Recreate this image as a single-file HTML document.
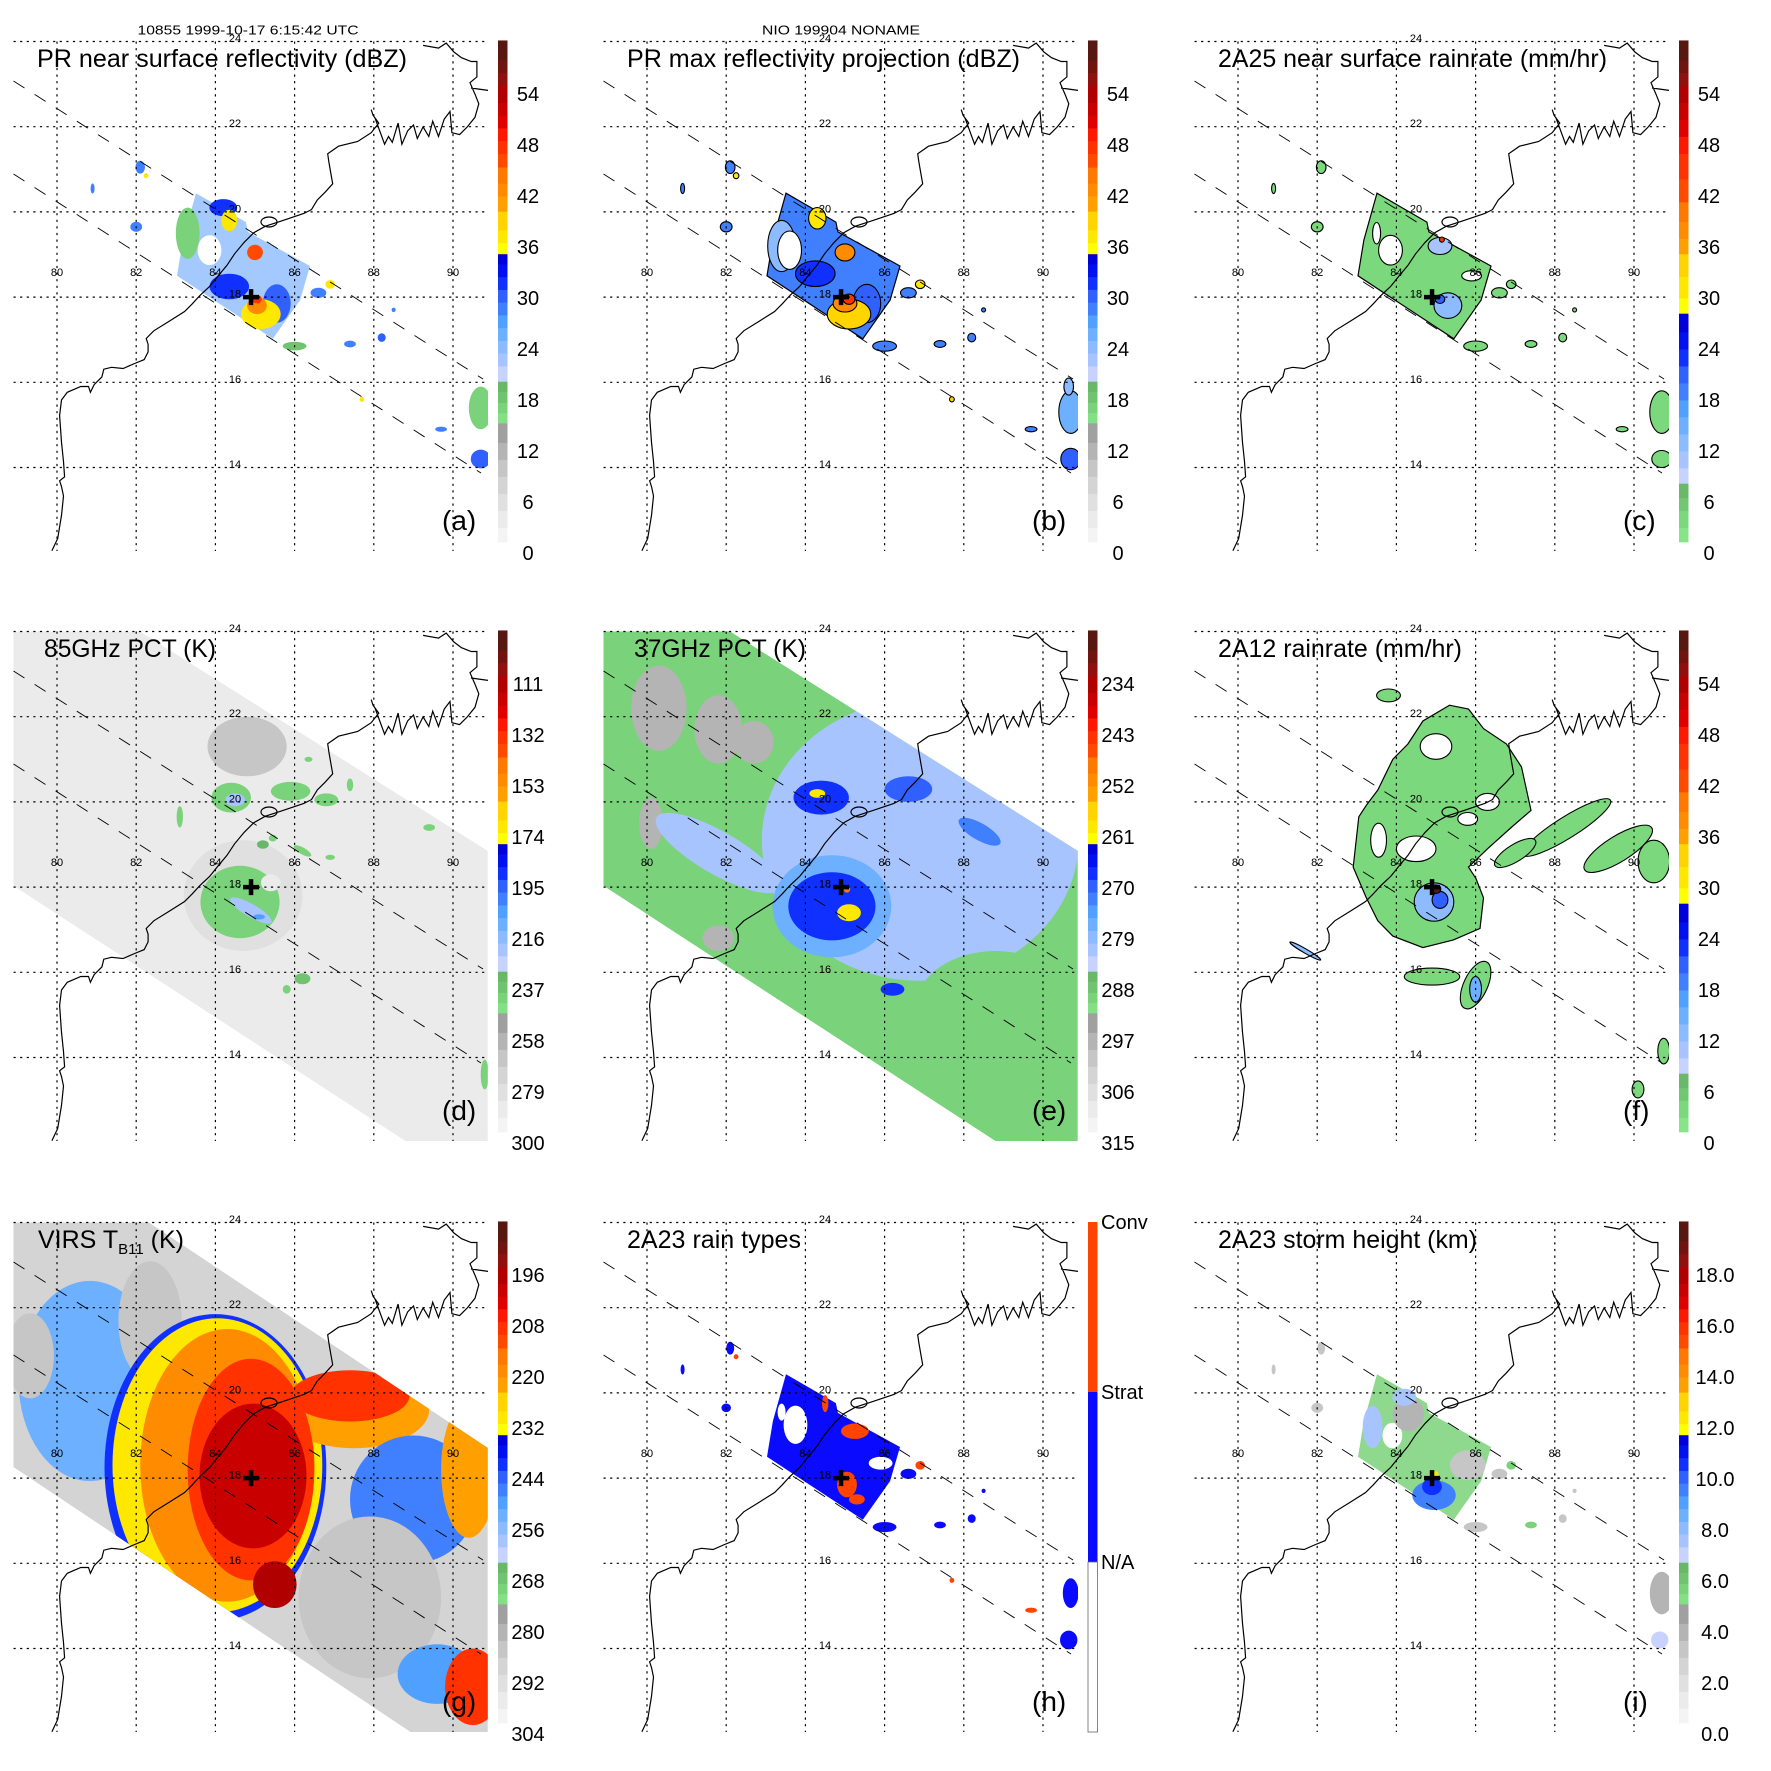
<!DOCTYPE html>
<html><head><meta charset="utf-8"><title>TRMM overpass 10855 NIO 199904</title>
<style>html,body{margin:0;padding:0;background:#fff;width:1771px;height:1771px;overflow:hidden}
svg{position:absolute;left:0;top:0;font-family:"Liberation Sans",Arial,sans-serif}</style></head>
<body>
<svg id="fig" width="1771" height="1771" xmlns="http://www.w3.org/2000/svg">
<rect x="0" y="0" width="1771" height="1771" fill="#fff"/>
</svg>
<script>
const NS='http://www.w3.org/2000/svg';
const svg=document.getElementById('fig');

// axis ticks
const lonTicks=[80,82,84,86,88,90];
const latTicks=[24,22,20,18,16,14];
// storm centre
const stormLon=84.9, stormLat=18.0;
// swath outlines (lon, lat)
const prSwath=[[83.51,20.44],[84.77,19.76],[84.82,19.53],[86.39,18.73],[86.14,17.93],[85.45,17.02],[83.03,18.50],[83.18,19.34]];
const tmiSwath=[[78.9,24.0],[82.1,24.0],[90.88,18.85],[90.88,12.0],[88.86,12.0],[78.9,18.03]];
const virsSwath=[[78.9,24.0],[82.32,24.0],[90.88,18.71],[90.88,12.0],[88.99,12.0],[78.9,18.26]];

// colourbar label arrays
const labelsA=['54','48','42','36','30','24','18','12','6','0'];
const labelsD=['111','132','153','174','195','216','237','258','279','300'];
const labelsE=['234','243','252','261','270','279','288','297','306','315'];
const labelsG=['196','208','220','232','244','256','268','280','292','304'];
const labelsI=['18.0','16.0','14.0','12.0','10.0','8.0','6.0','4.0','2.0','0.0'];

// blob data: [lon, lat, rxDeg, ryDeg, value, rotation]
const blobsA=[[83.3,19.5,.3,.6,17],[83.85,19.1,.3,.35,null],[84.35,18.25,.5,.3,31],[84.2,20.1,.35,.2,31],[84.35,19.8,.2,.25,37],[85.0,19.05,.2,.18,46],[85.55,17.85,.35,.45,30],[85.15,17.6,.5,.35,37],[85.05,17.8,.25,.2,42],[85.05,17.95,.12,.1,48],
[82.1,21.05,.12,.15,28],[82.25,20.85,.06,.06,37],[80.9,20.55,.05,.12,28],[82.0,19.65,.15,.12,28],[86.9,18.3,.12,.1,37],[86.6,18.1,.2,.12,28],[88.2,17.05,.1,.1,30],[87.4,16.9,.15,.08,28],[86.0,16.85,.3,.1,18],[90.7,15.4,.3,.5,17],[90.7,14.2,.25,.22,30],[89.7,14.9,.15,.06,28],[87.7,15.6,.06,.06,37],[88.5,17.7,.05,.05,28]];
const blobsB=[[83.4,19.2,.35,.6,24],[83.6,19.1,.3,.45,null],[84.25,18.55,.5,.3,32],[84.3,19.85,.22,.25,37],[85.0,19.05,.25,.2,43],[85.55,17.85,.35,.45,30],[85.1,17.6,.55,.35,38],[85.0,17.85,.3,.2,42],[85.1,17.95,.15,.12,47],
[82.1,21.05,.12,.15,28],[82.25,20.85,.07,.07,37],[80.9,20.55,.05,.12,28],[82.0,19.65,.15,.12,28],[86.9,18.3,.12,.1,37],[86.6,18.1,.2,.12,28],[88.2,17.05,.1,.1,28],[87.4,16.9,.15,.08,28],[86.0,16.85,.3,.12,28],[90.7,15.3,.3,.5,26],[90.7,14.2,.25,.25,30],[90.65,15.9,.12,.2,24],[89.7,14.9,.15,.06,28],[87.7,15.6,.06,.06,38],[88.5,17.7,.05,.05,28]];
const blobsC=[[83.85,19.1,.3,.35,null],[83.5,19.5,.1,.25,null],[85.1,19.2,.3,.2,10],[85.3,17.8,.35,.3,12],[85.1,17.95,.12,.1,20],[85.15,19.35,.06,.06,45],[85.9,18.5,.25,.12,null],
[82.1,21.05,.12,.15,3],[80.9,20.55,.05,.12,3],[82.0,19.65,.15,.12,3],[86.9,18.3,.12,.1,3],[86.6,18.1,.2,.12,3],[88.2,17.05,.1,.1,3],[87.4,16.9,.15,.08,3],[86.0,16.85,.3,.12,3],[90.7,15.3,.3,.5,3],[90.7,14.2,.25,.2,3],[89.7,14.9,.15,.06,3],[88.5,17.7,.05,.05,3]];
const blobsD=[[84.8,21.3,1.0,.7,268],[84.7,17.8,1.5,1.3,278],[84.62,17.65,1.0,.85,240],[84.9,17.45,.6,.15,220,30],[85.1,17.3,.15,.06,205],[85.4,18.1,.25,.2,287],[84.4,20.1,.5,.35,240],[84.5,20.05,.25,.15,222],[85.9,20.25,.5,.22,240],[86.8,20.05,.3,.15,240],[85.2,19.0,.15,.1,232],[85.45,19.15,.1,.08,240],[86.2,18.85,.25,.08,240,30],[86.9,18.7,.12,.06,240],[86.2,15.85,.2,.13,238],[85.8,15.6,.1,.1,240],[90.8,13.6,.1,.35,240],[83.1,19.65,.08,.25,240],[87.4,20.4,.08,.15,240],[89.4,19.4,.15,.08,240],[86.35,21.0,.1,.06,240]];
const blobsE=[[80.3,22.2,.7,1.0,296],[81.8,21.7,.6,.8,296],[82.7,21.4,.5,.5,296],[80.1,19.5,.3,.6,296],[81.8,16.8,.4,.3,296],[81.8,18.8,1.8,.5,282,30],[86.9,19.1,4.0,3.3,281],[88.8,15.2,2.0,1.3,289],[84.4,20.1,.7,.4,268],[86.6,20.3,.6,.3,270],[88.4,19.3,.6,.2,273,30],[84.67,17.55,1.5,1.2,276],[84.67,17.55,1.1,.8,267],[85.1,17.4,.3,.2,259],[84.3,20.2,.2,.1,259],[85.05,17.95,.08,.08,248],[86.2,15.6,.3,.15,268]];
const blobsF=[[88.3,19.4,1.3,.25,3,-32],[89.6,18.9,1.0,.3,3,-32],[90.5,18.6,.4,.5,3],[87.0,18.8,.6,.2,3,-32],[84.9,15.9,.7,.2,3],[86.0,15.7,.3,.6,3,25],[83.8,22.5,.3,.15,3],[90.1,13.25,.15,.2,3],[90.75,14.15,.15,.3,3],[89.3,11.9,.15,.1,3],
[84.5,18.9,.5,.3,null],[83.55,19.1,.2,.4,null],[85.0,21.3,.4,.3,null],[86.3,20.0,.3,.2,null],[85.8,19.6,.25,.15,null],
[84.95,17.65,.5,.45,12],[85.1,17.7,.2,.2,20],[86.0,15.6,.15,.3,14],[85.0,17.95,.12,.1,70],[81.7,16.5,.45,.05,12,30]];
const blobsG=[[80.83,20.28,1.8,2.35,252],[82.35,21.69,.8,1.4,285],[79.32,20.87,.6,1.0,285],[79.8,23.7,1.2,.5,288],
[84.0,18.25,2.8,3.6,242],[84.05,18.3,2.65,3.45,230],[84.3,18.3,2.2,3.2,220],[87.5,19.6,1.9,.9,222],[84.9,18.2,1.6,2.6,210],[87.4,19.93,1.5,.6,208],[84.95,18.05,1.35,1.7,200],[85.5,15.5,.55,.55,198],
[89.0,17.5,1.6,1.5,248],[87.9,15.2,1.8,1.9,286],[90.4,18.2,.7,1.6,222],[89.6,13.4,1.0,.7,250],[90.5,13.1,.7,.9,210]];
const blobsH=[[83.75,19.25,.3,.45,null],[83.4,19.55,.1,.2,null],[85.25,19.1,.35,.18,2],[84.5,19.75,.08,.2,2],[85.05,17.85,.25,.3,2],[85.3,17.5,.2,.12,2],[85.9,18.35,.3,.15,null],
[82.1,21.05,.1,.15,1],[82.25,20.85,.06,.06,2],[80.9,20.55,.05,.12,1],[82.0,19.65,.12,.1,1],[86.9,18.3,.12,.1,2],[86.6,18.1,.2,.12,1],[88.2,17.05,.1,.1,1],[87.4,16.9,.15,.08,1],[86.0,16.85,.3,.12,1],[90.7,15.3,.2,.35,1],[90.65,14.2,.22,.22,1],[89.7,14.9,.15,.06,2],[87.7,15.6,.06,.06,2],[88.5,17.7,.05,.05,1]];
const blobsI=[[83.9,19.0,.25,.3,null],[84.3,19.5,.4,.4,4.0],[85.8,18.3,.45,.35,3.5],[84.2,19.9,.3,.2,7.5],[83.4,19.2,.25,.5,7.5],[84.95,17.6,.55,.35,9.5],[84.9,17.8,.25,.2,10.5],[85.0,18.1,.06,.06,12.5],
[82.1,21.05,.1,.15,3],[80.9,20.55,.05,.12,3],[82.0,19.65,.15,.12,3],[86.9,18.3,.12,.1,5.5],[86.6,18.1,.2,.12,3],[88.2,17.05,.1,.1,3],[87.4,16.9,.15,.08,5.5],[86.0,16.85,.3,.12,3],[90.7,15.3,.3,.5,4],[90.65,14.2,.22,.2,7],[88.5,17.7,.05,.05,3]];

// f main rain polygon
const polyF=[[83.05,19.65],[82.91,18.47],[83.24,17.75],[83.53,17.21],[83.91,16.85],[84.67,16.58],[85.44,16.76],[86.11,17.03],[86.20,17.75],[86.01,18.20],[85.82,18.47],[86.3,18.9],[86.9,19.4],[87.4,19.8],[87.16,20.82],[86.78,21.36],[86.20,21.72],[85.82,22.18],[85.34,22.27],[84.67,21.90],[84.29,21.36],[83.91,21.00],[83.53,20.28],[83.24,19.92]];

function X(lon){return 57+(lon-80)*39.6;}
function Y(lat){return 41.5+(24-lat)*42.6;}
const ML=13.5,MR=488,MT=41.5,MB=551;

const bandsA=[[3,'#f4f4f4'],[5,'#ebebeb'],[7,'#e0e0e0'],[9,'#d4d4d4'],[11,'#c6c6c6'],[13,'#b4b4b4'],[15.3,'#a0a0a0'],
[16.5,'#84e084'],[17.7,'#7ad27a'],[19,'#70c470'],[20.2,'#68b868'],
[22,'#c8d2ff'],[23.5,'#a8c4ff'],[25,'#8cbcff'],[26.5,'#6cb0ff'],[28,'#50a0ff'],[29.5,'#4080ff'],[31,'#3060ff'],[32.5,'#1030ff'],[34,'#0010f0'],[35.2,'#0000d8'],
[36.5,'#ffff00'],[38,'#ffe800'],[40.2,'#ffd400'],[42,'#ffa000'],[43.5,'#ff8c00'],[45.4,'#ff7800'],
[47,'#ff4a00'],[48.5,'#ff3200'],[50,'#ff1800'],[51.5,'#e00000'],[53,'#c80000'],[55,'#b00000'],[56.5,'#901010'],[58,'#701410'],[61,'#581812']];
const bandsB=[[3,'#88e488'],[5,'#7cd87c'],[6.5,'#72c872'],[8.2,'#6ab86a'],
[10,'#c8d2ff'],[12,'#a8c4ff'],[14,'#8cbcff'],[16,'#6cb0ff'],[18,'#50a0ff'],[20,'#4080ff'],[22,'#3060ff'],[24,'#1030ff'],[26,'#0010f0'],[28.2,'#0000d8'],
[30,'#ffff00'],[32.5,'#ffe800'],[35.2,'#ffd400'],[37,'#ffa000'],[39,'#ff8c00'],[41.3,'#ff7800'],
[44,'#ff4a00'],[47,'#ff3200'],[49,'#ff1800'],[51,'#e00000'],[53,'#c80000'],[55,'#b00000'],[56.5,'#901010'],[58,'#701410'],[61,'#581812']];
function colA(v){for(const b of bandsA){if(v<b[0])return b[1];}return '#581812';}
function colB(v){for(const b of bandsB){if(v<b[0])return b[1];}return '#581812';}

const coastD="M51.9,550.8 L57.7,538.5 61.5,515.4 63.5,496 61.5,486.5 59.6,480.8 64.6,476.9 63.5,461.5 61.5,442.3 59.6,415.4 61.5,400 67.3,392.3 80.8,386.5 88.5,386.5 90.4,392.3 94.2,384.6 101.9,376.9 103.8,369.2 111.5,367.3 123.1,368.5 134.6,363.5 144.2,359.6 148.1,351.9 148.1,344.2 146.2,338.5 153.8,330.8 169.2,321.2 184.6,311.5 192.3,303.8 200,295.4 209.6,286.5 217.3,276.9 226.9,265.4 234.6,253.8 244.2,242.3 253.8,232.7 265.4,226.2 280.8,221.2 303.8,213.5 311.5,209.6 317.3,200 325,192.3 332.7,183.8 330.8,173.1 328.8,161.5 327.7,153.8 338.5,146.2 357.7,141.5 371.2,132.7 378.8,123.1 373.1,115.4 371.2,109.6 M375,118 L384.6,144.2 388.5,136.5 392.3,142.3 398.1,123.1 401.9,144.2 407.7,130.8 413.5,125 417.3,138.5 423.1,126.9 428.8,136.5 432.7,121.2 438.5,136.5 444.2,119.2 450,111.5 451.9,132.7 459.6,134.6 467.3,126.9 475,117.3 478.8,103.8 475,94.2 470,82.7 476.9,76.9 476.9,61.5 471.2,61.5 461.5,57.7 453.8,51.9 446.2,43.1 438.5,48.1 423.1,45.4 M471,88 L488,90.4 M261,222 a8,5 0 1,0 16,0 a8,5 0 1,0 -16,0";

function el(tag,attrs,parent){const e=document.createElementNS(NS,tag);for(const k in attrs)e.setAttribute(k,attrs[k]);(parent||svg).appendChild(e);return e;}
function polyPts(arr){return arr.map(p=>X(p[0]).toFixed(1)+','+Y(p[1]).toFixed(1)).join(' ');}

const panels=[
 {id:'a',col:0,row:0,title:'PR near surface reflectivity (dBZ)',tx:37,tl:370,scheme:'A',labels:labelsA,toV:v=>v,base:prSwath,baseV:24,baseOp:.8,blobs:blobsA,stroke:false},
 {id:'b',col:1,row:0,title:'PR max reflectivity projection (dBZ)',tx:37,tl:393,scheme:'A',labels:labelsA,toV:v=>v,base:prSwath,baseV:28,baseOp:1,blobs:blobsB,stroke:true},
 {id:'c',col:2,row:0,title:'2A25 near surface rainrate (mm/hr)',tx:37,tl:389,scheme:'B',labels:labelsA,toV:v=>v,base:prSwath,baseV:3,baseOp:1,blobs:blobsC,stroke:true},
 {id:'d',col:0,row:1,title:'85GHz PCT (K)',tx:44,tl:172,scheme:'A',labels:labelsD,toV:k=>(300-k)*6/21,base:tmiSwath,baseV:287,baseOp:1,blobs:blobsD,stroke:false,clip:tmiSwath},
 {id:'e',col:1,row:1,title:'37GHz PCT (K)',tx:44,tl:172,scheme:'A',labels:labelsE,toV:k=>(315-k)*6/9,base:tmiSwath,baseV:289,baseOp:1,blobs:blobsE,stroke:false,clip:tmiSwath},
 {id:'f',col:2,row:1,title:'2A12 rainrate (mm/hr)',tx:37,tl:244,scheme:'B',labels:labelsA,toV:v=>v,base:polyF,baseV:3,baseOp:1,blobs:blobsF,stroke:true},
 {id:'g',col:0,row:2,title:null,scheme:'A',labels:labelsG,toV:k=>(304-k)/2,base:virsSwath,baseV:288,baseOp:1,blobs:blobsG,stroke:false,clip:virsSwath},
 {id:'h',col:1,row:2,title:'2A23 rain types',tx:37,tl:174,scheme:'H',labels:null,toV:v=>v,base:prSwath,baseV:1,baseOp:1,blobs:blobsH,stroke:false},
 {id:'i',col:2,row:2,title:'2A23 storm height (km)',tx:37,tl:259,scheme:'A',labels:labelsI,toV:v=>v*3,base:prSwath,baseV:5.5,baseOp:.85,blobs:blobsI,stroke:false}
];
const offs=[0,590,1181];

function colorFor(p,val){
  if(val===null)return '#ffffff';
  if(p.scheme==='H')return val===2?'#ff4400':'#0a0aff';
  const v=p.toV(val);
  if(v<1.3)return '#ffffff';
  return p.scheme==='B'?colB(v):colA(v);
}

panels.forEach(p=>{
  const g=el('g',{transform:`translate(${offs[p.col]},${offs[p.row]})`});
  
  
  const defs=el('defs',{},g);
  const cp=el('clipPath',{id:'clip-'+p.id},defs);
  if(p.clip){el('polygon',{points:polyPts(p.clip)},cp);} else {el('rect',{x:ML,y:MT,width:MR-ML,height:MB-MT},cp);}
  const cpm=el('clipPath',{id:'clipm-'+p.id},defs);
  el('rect',{x:ML,y:MT,width:MR-ML,height:MB-MT},cpm);
  const outer=el('g',{'clip-path':`url(#clipm-${p.id})`},g);
  const dg=el('g',{'clip-path':`url(#clip-${p.id})`},outer);
  
  
  const base=el('polygon',{points:polyPts(p.base),fill:colorFor(p,p.baseV),'fill-opacity':p.baseOp,stroke:p.stroke&&!p.clip?'#000':'none','stroke-width':1.2},dg);
  
  
  p.blobs.forEach(b=>{
    const cx=X(b[0]),cy=Y(b[1]),rx=b[2]*39.6,ry=b[3]*42.6,rot=b[5]||0;
    const e=el('ellipse',{cx:cx.toFixed(1),cy:cy.toFixed(1),rx:rx.toFixed(1),ry:ry.toFixed(1),fill:colorFor(p,b[4]),stroke:p.stroke?'#000':'none','stroke-width':1.1,transform:`rotate(${rot} ${cx.toFixed(1)} ${cy.toFixed(1)})`},dg);
    
    
  });
  // grid
  latTicks.forEach(lat=>{
    const l=el('line',{x1:ML,x2:MR,y1:Y(lat),y2:Y(lat),stroke:'#000','stroke-width':1.2,'stroke-dasharray':'2.2,4.4'},g);
    
    
    const t=el('text',{x:235,y:Y(lat)+0.5,'font-size':11,'text-anchor':'middle',fill:'#000'},g);
    
    
    t.textContent=String(lat);
  });
  lonTicks.forEach(lon=>{
    const l=el('line',{x1:X(lon),x2:X(lon),y1:MT,y2:MB,stroke:'#000','stroke-width':1.2,'stroke-dasharray':'2.2,4.4'},g);
    
    
    const t=el('text',{x:X(lon),y:276,'font-size':11,'text-anchor':'middle',fill:'#000'},g);
    
    
    t.textContent=String(lon);
  });
  // coast
  const c=el('path',{d:coastD,fill:'none',stroke:'#000','stroke-width':1.2},g);
  
  
  // PR swath edges
  const d1=el('line',{x1:13.5,y1:81,x2:483,y2:379,stroke:'#000','stroke-width':0.9,'stroke-dasharray':'13,12'},g);
  
  
  const d2=el('line',{x1:13.5,y1:174,x2:481,y2:473,stroke:'#000','stroke-width':0.9,'stroke-dasharray':'13,12'},g);
  
  
  // storm cross
  const sx=X(stormLon),sy=Y(stormLat);
  const cr=el('path',{d:`M${sx-8},${sy} L${sx+8},${sy} M${sx},${sy-8} L${sx},${sy+8}`,stroke:'#000','stroke-width':4.5},g);
  
  
  // title
  if(p.title){
    const t=el('text',{x:p.tx,y:67,'font-size':25,fill:'#000',textLength:p.tl,lengthAdjust:'spacingAndGlyphs'},g);
    
    
    t.textContent=p.title;
  } else {
    const t=el('text',{x:38,y:67,'font-size':25,fill:'#000'},g);
    
    
    const s1=el('tspan',{},t);s1.textContent='VIRS T';
    const s2=el('tspan',{'font-size':15,dy:6},t);s2.textContent='B11';
    const s3=el('tspan',{dy:-6},t);s3.textContent=' (K)';
  }
  // panel letter
  const lt=el('text',{x:442,y:530,'font-size':28,fill:'#000'},g);
  
  
  lt.textContent='('+p.id+')';
  // colourbar
  const cb=el('g',{},g);
  
  
  if(p.scheme==='H'){
    const r1=el('rect',{x:498,y:41,width:9.5,height:170,fill:'#ff4400'},cb);
    
    
    const r2=el('rect',{x:498,y:211,width:9.5,height:170,fill:'#0a0aff'},cb);
    
    
    const r3=el('rect',{x:498,y:381,width:9.5,height:170,fill:'#fff',stroke:'#666','stroke-width':0.8},cb);
    
    
    [['Conv',41],['Strat',211],['N/A',381]].forEach(q=>{
      const t=el('text',{x:511,y:q[1]+7,'font-size':20,fill:'#000'},cb);
      
      
      t.textContent=q[0];
    });
  } else {
    const bands=p.scheme==='B'?bandsB:bandsA;
    let lo=1.3;
    bands.forEach(b=>{
      const hi=Math.min(b[0],60.3);
      if(hi>lo){
        const y1=553-8.5*hi,y2=553-8.5*lo;
        const r=el('rect',{x:498,y:y1.toFixed(2),width:9.5,height:(y2-y1+0.4).toFixed(2),fill:b[1]},cb);
        
        
      }
      lo=Math.max(lo,b[0]);
    });
    p.labels.forEach((s,k)=>{
      const v=54-6*k;
      const t=el('text',{x:p.id==='i'?534:528,y:553-8.5*v+7,'font-size':20,'text-anchor':'middle',fill:'#000'},cb);
      
      
      t.textContent=s;
    });
  }
});

// headers
const h1=el('text',{x:248,y:34.5,'font-size':12.5,'text-anchor':'middle',fill:'#000',textLength:221,lengthAdjust:'spacingAndGlyphs'});


h1.textContent='10855 1999-10-17 6:15:42 UTC';
const h2=el('text',{x:841,y:34.5,'font-size':12.5,'text-anchor':'middle',fill:'#000',textLength:158,lengthAdjust:'spacingAndGlyphs'});


h2.textContent='NIO 199904 NONAME';
</script>
</body></html>
